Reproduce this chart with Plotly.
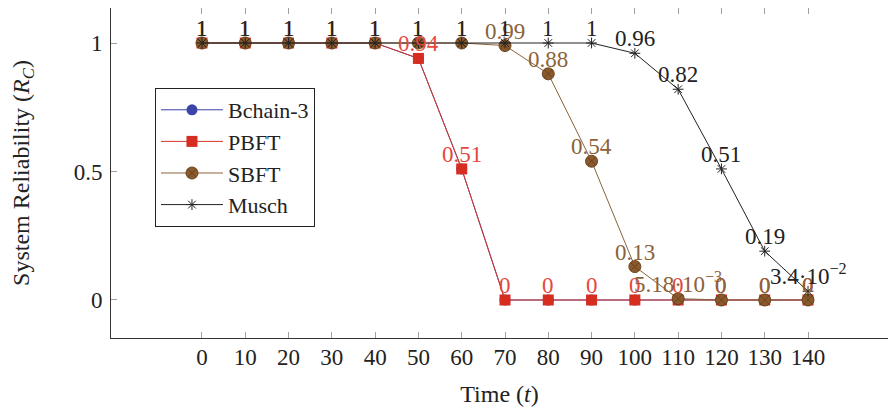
import plotly.graph_objects as go

time = [0, 10, 20, 30, 40, 50, 60, 70, 80, 90, 100, 110, 120, 130, 140]
bchain3 = [1, 1, 1, 1, 1, 0.94, 0.51, 0, 0, 0, 0, 0, 0, 0, 0]
pbft = [1, 1, 1, 1, 1, 0.94, 0.51, 0, 0, 0, 0, 0, 0, 0, 0]
sbft = [1, 1, 1, 1, 1, 1, 1, 0.99, 0.88, 0.54, 0.13, 0.00518, 0, 0, 0]
musch = [1, 1, 1, 1, 1, 1, 1, 1, 1, 1, 0.96, 0.82, 0.51, 0.19, 0.034]

pbft_labels = ["1", "1", "1", "1", "1", "0.94", "0.51", "0", "0", "0", "0", "0", "0", "0", "0"]
sbft_labels = ["1", "1", "1", "1", "1", "1", "1", "0.99", "0.88", "0.54", "0.13",
               "5.18·10<sup>−3</sup>", "0", "0", "0"]
musch_labels = ["1", "1", "1", "1", "1", "1", "1", "1", "1", "1", "0.96", "0.82", "0.51", "0.19",
                "3.4·10<sup>−2</sup>"]
y_ticks = [0, 0.5, 1]
y_ticktext = ["0", "0.5", "1"]

FONT = "Liberation Serif"
RED_TXT = "#e5483e"
BROWN_TXT = "#8b6239"
BLACK_TXT = "#222222"

fig = go.Figure()

fig.add_trace(go.Scatter(
    x=time, y=bchain3, name="Bchain-3", mode="lines+markers",
    line=dict(color="#3b44a8", width=1),
    marker=dict(symbol="circle", size=11, color="#3b44a8"),
))
fig.add_trace(go.Scatter(
    x=time, y=pbft, name="PBFT", mode="lines+markers",
    line=dict(color="#d8352a", width=1),
    marker=dict(symbol="square", size=11, color="#d62d20"),
))
fig.add_trace(go.Scatter(
    x=time, y=sbft, name="SBFT", mode="lines+markers",
    line=dict(color="#8b6239", width=1),
    marker=dict(symbol="circle-x", size=12, color="#8a5a2c",
                line=dict(color="#6a4320", width=1)),
))
fig.add_trace(go.Scatter(
    x=time, y=musch, name="Musch", mode="lines+markers",
    line=dict(color="#222222", width=1),
    marker=dict(symbol="asterisk-open", size=9, color="#222222",
                line=dict(color="#222222", width=1)),
))

# value labels above every point (nodes near coords)
for xs, ys, labels, col in [(time, pbft, pbft_labels, RED_TXT),
                            (time, sbft, sbft_labels, BROWN_TXT),
                            (time, musch, musch_labels, BLACK_TXT)]:
    for xv, yv, lab in zip(xs, ys, labels):
        fig.add_annotation(x=xv, y=yv, text=lab, showarrow=False,
                           xanchor="center", yanchor="bottom", yshift=0,
                           font=dict(family=FONT, size=23, color=col))

fig.update_layout(
    width=880, height=399,
    margin=dict(l=103, r=0, t=0, b=69),
    paper_bgcolor="white", plot_bgcolor="white",
    font=dict(family=FONT, size=23, color="#222222"),
    showlegend=True,
    legend=dict(
        x=0.0566, y=0.7576, xanchor="left", yanchor="top",
        bgcolor="white", bordercolor="#222222", borderwidth=1,
        font=dict(family=FONT, size=22, color="#222222"),
        itemwidth=62,
    ),
    xaxis=dict(
        range=[-21.02, 158.48], tickvals=time, ticktext=[str(t) for t in time],
        ticks="inside", ticklen=6, tickcolor="#a0a0a0", tickwidth=1,
        showline=True, linecolor="#333333", linewidth=1, mirror="ticks",
        showgrid=False, zeroline=False, ticklabelstandoff=-2, automargin=False,
        tickfont=dict(family=FONT, size=23),
        title=dict(text="Time (<i>t</i>)", font=dict(family=FONT, size=24), standoff=25),
    ),
    yaxis=dict(
        range=[-0.1479, 1.1362], tickvals=y_ticks, ticktext=y_ticktext,
        ticks="inside", ticklen=6, tickcolor="#a0a0a0", tickwidth=1,
        showline=True, linecolor="#333333", linewidth=1, mirror=False,
        showgrid=False, zeroline=False, ticklabelstandoff=3, automargin=False,
        tickfont=dict(family=FONT, size=23),
        title=dict(text="System Reliability (<i>R</i><sub><i>C</i></sub>)",
                   font=dict(family=FONT, size=24), standoff=40),
    ),
    yaxis2=dict(
        overlaying="y", side="right", matches="y", anchor="x",
        tickvals=y_ticks, ticks="inside", ticklen=6, tickcolor="#a0a0a0", tickwidth=1,
        showticklabels=False, showline=False, showgrid=False, zeroline=False,
        automargin=False,
    ),
)

fig.write_html("out.html")
